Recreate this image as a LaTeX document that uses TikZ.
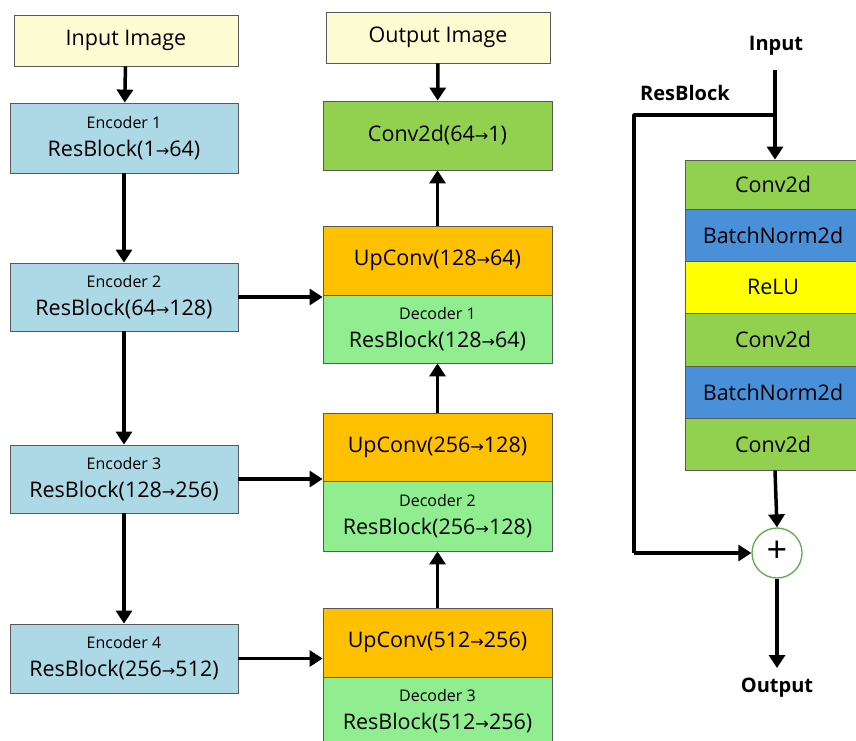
\documentclass[tikz,border=0pt]{standalone}
\usepackage{fontspec}
\setmainfont{Open Sans}
\newfontfamily\symfont{DejaVu Sans}
\usetikzlibrary{arrows.meta,calc}
\newcommand{\rarr}{{\symfont\scalebox{0.75}{→}}}
\definecolor{inyellow}{HTML}{FDFBD2}
\definecolor{encblue}{HTML}{ADD8E6}
\definecolor{convgreen}{HTML}{92D050}
\definecolor{uporange}{HTML}{FFC000}
\definecolor{decgreen}{HTML}{90EE90}
\definecolor{bnblue}{HTML}{4A90D9}
\definecolor{reluyellow}{HTML}{FFFF00}
\definecolor{sumgreen}{HTML}{5AAE48}
\tikzset{
  box/.style={draw=black!65, line width=0.8pt, align=center, inner sep=0pt,
    font=\fontsize{21.5}{25}\selectfont},
  colbox/.style={box, minimum width=228pt},
  stackbox/.style={box, minimum width=176pt},
  flow/.style={line width=3.5pt, -{Triangle[length=13pt,width=16pt]}},
  plain/.style={line width=3.5pt},
  tag/.style={font=\fontsize{20}{24}\selectfont\bfseries, inner sep=0pt},
}
\newcommand{\twoline}[2]{{\fontsize{16}{19}\selectfont #1}\\[3pt]#2}
\begin{document}
\begin{tikzpicture}[x=1pt,y=-1pt]
\useasboundingbox (0,0) rectangle (856,740);
\clip (0,0) rectangle (856,740);

% encoder column
\node[colbox, minimum width=224pt, minimum height=51pt, fill=inyellow] (inimg) at (126,40.5) {Input Image};
\node[colbox, minimum height=70pt, fill=encblue] (enc1) at (124,138) {\twoline{Encoder 1}{ResBlock(1\rarr64)}};
\node[colbox, minimum height=68pt, fill=encblue] (enc2) at (124,297) {\twoline{Encoder 2}{ResBlock(64\rarr128)}};
\node[colbox, minimum height=68pt, fill=encblue] (enc3) at (124,479) {\twoline{Encoder 3}{ResBlock(128\rarr256)}};
\node[colbox, minimum height=69pt, fill=encblue] (enc4) at (124,658.5) {\twoline{Encoder 4}{ResBlock(256\rarr512)}};

% decoder column
\node[colbox, minimum width=224pt, minimum height=51pt, fill=inyellow] (outimg) at (438,37.5) {Output Image};
\node[colbox, minimum width=229pt, minimum height=69pt, fill=convgreen] (final) at (437.5,135.5) {Conv2d(64\rarr1)};
\node[colbox, minimum width=229pt, minimum height=69pt, fill=uporange] (up1) at (437.5,260.5) {UpConv(128\rarr64)};
\node[colbox, minimum width=229pt, minimum height=68pt, fill=decgreen] (dec1) at (437.5,329) {\twoline{Decoder 1}{ResBlock(128\rarr64)}};
\node[colbox, minimum width=229pt, minimum height=68pt, fill=uporange] (up2) at (437.5,447) {UpConv(256\rarr128)};
\node[colbox, minimum width=229pt, minimum height=70pt, fill=decgreen] (dec2) at (437.5,516) {\twoline{Decoder 2}{ResBlock(256\rarr128)}};
\node[colbox, minimum width=229pt, minimum height=69pt, fill=uporange] (up3) at (437.5,642.5) {UpConv(512\rarr256)};
\node[colbox, minimum width=229pt, minimum height=68pt, fill=decgreen] (dec3) at (437.5,711) {\twoline{Decoder 3}{ResBlock(512\rarr256)}};

% encoder path
\draw[flow] (inimg) -- (enc1);
\draw[flow] (enc1) -- (enc2);
\draw[flow] (enc2) -- (enc3);
\draw[flow] (enc3) -- (enc4);

% skip connections into the decoder
\draw[flow] (enc2.east) -- (enc2.east -| dec1.west);
\draw[flow] (enc3.east) -- (enc3.east -| dec2.west);
\draw[flow] (enc4.east) -- (enc4.east -| dec3.west);

% decoder path
\draw[flow] (outimg) -- (final);
\draw[flow] (up1) -- (final);
\draw[flow] (up2) -- (dec1);
\draw[flow] (up3) -- (dec2);

% residual block detail
\node[tag] (intag) at (776,46) {Input};
\node[tag] (rbtag) at (685,93) {ResBlock};
\coordinate (instart) at (775,70);
\coordinate (split) at (775,115);
\coordinate (corner) at (634,115);

\node[stackbox, minimum height=49pt, fill=convgreen] (s1) at (773,184.5) {Conv2d};
\node[stackbox, minimum height=52pt, fill=bnblue] (s2) at (773,235) {BatchNorm2d};
\node[stackbox, minimum height=52pt, fill=reluyellow] (s3) at (773,287) {ReLU};
\node[stackbox, minimum height=53pt, fill=convgreen] (s4) at (773,339.5) {Conv2d};
\node[stackbox, minimum height=52pt, fill=bnblue] (s5) at (773,392) {BatchNorm2d};
\node[stackbox, minimum height=52pt, fill=convgreen] (s6) at (773,444) {Conv2d};

\node[circle, draw=sumgreen, line width=1.3pt, fill=white, minimum size=50pt, inner sep=0pt,
  font=\fontsize{36}{36}\selectfont] (sum) at (777,553) {\raisebox{2pt}{+}};
\coordinate (outend) at (777,668);
\node[tag] (outtag) at (777,688) {Output};

\draw[flow] (instart) -- (s1.north -| instart);
\draw[plain, line join=round] (split) -- (corner) -- (corner |- sum.west);
\draw[flow] (corner |- sum.west) -- (sum.west);
\draw[flow] (s6.south -| 775,0) -- (sum.north);
\draw[flow] (sum.south) -- (outend);
\end{tikzpicture}
\end{document}
